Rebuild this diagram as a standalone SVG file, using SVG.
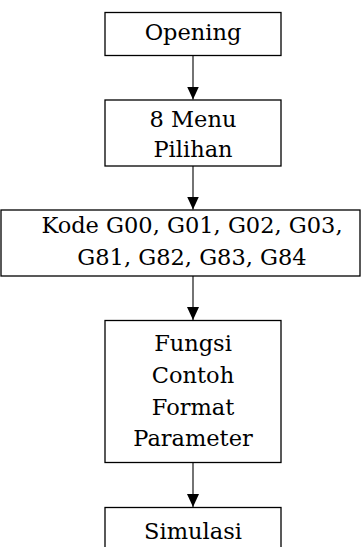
<svg xmlns="http://www.w3.org/2000/svg" width="361" height="547" viewBox="0 0 361 547">
<style>
.box{fill:#fff;stroke:#000;stroke-width:1.3}
.t{font-family:"DejaVu Serif","Liberation Serif",serif;font-size:22.5px;fill:#000;text-anchor:middle}
.c{stroke:#000;stroke-width:1.1;fill:none}
</style>
<defs>
<marker id="ah" viewBox="0 0 13 12" refX="13" refY="6" markerWidth="13" markerHeight="12" markerUnits="userSpaceOnUse" orient="auto">
<path d="M0,0 L13,6 L0,12 Z" fill="#000"/>
</marker>
</defs>
<rect width="361" height="547" fill="#fff"/>
<g id="connectors">
<line class="c" x1="193" y1="55.5" x2="193" y2="99.5" marker-end="url(#ah)"/>
<line class="c" x1="193" y1="166" x2="193" y2="209.5" marker-end="url(#ah)"/>
<line class="c" x1="193" y1="276" x2="193" y2="320" marker-end="url(#ah)"/>
<line class="c" x1="193" y1="462.5" x2="193" y2="507" marker-end="url(#ah)"/>
</g>
<g id="n1"><rect class="box" x="105" y="12.5" width="176" height="43"/><text class="t" x="193" y="40">Opening</text></g>
<g id="n2"><rect class="box" x="105" y="100" width="176" height="66"/><text class="t" x="193" y="127">8 Menu</text><text class="t" x="193" y="157">Pilihan</text></g>
<g id="n3"><rect class="box" x="1" y="210" width="359" height="66"/><text class="t" x="192" y="233">Kode G00, G01, G02, G03,</text><text class="t" x="192" y="265">G81, G82, G83, G84</text></g>
<g id="n4"><rect class="box" x="105" y="320.5" width="176" height="142"/><text class="t" x="193" y="351">Fungsi</text><text class="t" x="193" y="383">Contoh</text><text class="t" x="193" y="414.5">Format</text><text class="t" x="193" y="446">Parameter</text></g>
<g id="n5"><rect class="box" x="105" y="507.5" width="176" height="60"/><text class="t" x="193" y="539">Simulasi</text></g>
</svg>
